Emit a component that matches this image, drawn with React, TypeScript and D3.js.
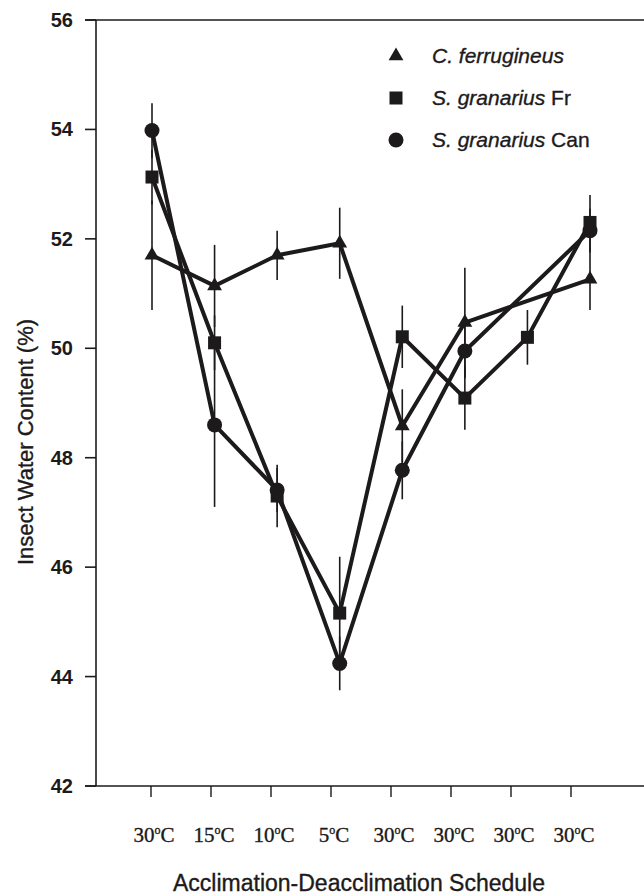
import * as d3 from 'd3';

// schedule labels (degrees C) for the x axis
const schedule = ['30', '15', '10', '5', '30', '30', '30', '30'];
const yTicks = [42, 44, 46, 48, 50, 52, 54, 56];

// water content (%) and error bars per series; null = not measured
const cFerrugineus = [51.70, 51.14, 51.70, 51.92, 48.58, 50.47, null, 51.26];
const cFerrugineusErr = [1.0, 0.75, 0.45, 0.65, 0.67, 1.0, null, 0.56];
const sGranariusFr = [53.13, 50.10, 47.30, 45.16, 50.21, 49.09, 50.20, 52.30];
const sGranariusFrErr = [0.5, 0.5, 0.57, 1.03, 0.57, 0.58, 0.5, 0.5];
const sGranariusCan = [53.98, 48.60, 47.41, 44.24, 47.77, 49.95, null, 52.15];
const sGranariusCanErr = [0.5, 1.5, 0.4, 0.49, 0.53, 0.5, null, 0.4];

const series = [
  { name: 'C. ferrugineus', suffix: '', symbol: d3.symbolTriangle, size: 95, values: cFerrugineus, errs: cFerrugineusErr },
  { name: 'S. granarius', suffix: ' Fr', symbol: d3.symbolSquare, size: 169, values: sGranariusFr, errs: sGranariusFrErr },
  { name: 'S. granarius', suffix: ' Can', symbol: d3.symbolCircle, size: 177, values: sGranariusCan, errs: sGranariusCanErr },
];

const ink = '#1c1a1b';
const W = 644;
const H = 895;

export default function App() {
  const y = d3.scaleLinear().domain([42, 56]).range([786, 20]);
  // the drawn points sit slightly wider than the tick marks in the original
  const xData = d3.scaleLinear().domain([0, schedule.length - 1]).range([152, 590]);
  const xTick = d3.scalePoint<number>().domain(d3.range(schedule.length)).range([151, 571]);
  const axisLeft = 96;

  // missing points are skipped, the line joins the neighbours
  const line = d3.line<[number, number]>()
    .x(d => xData(d[0]))
    .y(d => y(d[1]));
  const pts = (vals: (number | null)[]) =>
    vals.map((v, i) => [i, v] as [number, number | null]).filter(d => d[1] != null) as [number, number][];

  // scanned text looks a little heavier than plain Arial
  const heavy = { stroke: ink, strokeWidth: 0.35 };

  return (
    <svg width={W} height={H} style={{ position: 'absolute', left: 0, top: 0, background: '#fff' }}
      fontFamily="Arial, 'Liberation Sans', sans-serif">
      {/* frame */}
      <line x1={85} x2={W} y1={y(56)} y2={y(56)} stroke={ink} strokeWidth={1.6} />
      <line x1={85} x2={W} y1={y(42)} y2={y(42)} stroke={ink} strokeWidth={1.6} />
      <line x1={axisLeft} x2={axisLeft} y1={y(56)} y2={y(42)} stroke={ink} strokeWidth={1.6} />

      {/* y ticks */}
      {yTicks.map(t => (
        <g key={t}>
          <line x1={85} x2={axisLeft} y1={y(t)} y2={y(t)} stroke={ink} strokeWidth={1.6} />
          <text x={73} y={y(t) + 7} textAnchor="end" fontSize={20} fontWeight="bold" fill={ink}>{t}</text>
        </g>
      ))}

      {/* x ticks + labels */}
      {schedule.map((s, i) => (
        <g key={i}>
          <line x1={xTick(i)} x2={xTick(i)} y1={y(42)} y2={y(42) + 11} stroke={ink} strokeWidth={1.4} />
          <text x={(xTick(i) as number) + 3} y={842} textAnchor="middle" fontSize={21}
            fontFamily="'Liberation Serif', 'Times New Roman', serif" fill={ink} {...heavy}>
            {s}<tspan dy={-8} fontSize={12}>o</tspan><tspan dy={8}>C</tspan>
          </text>
        </g>
      ))}

      {/* axis titles */}
      <text x={359} y={891} textAnchor="middle" fontSize={23} fill={ink} {...heavy}>Acclimation-Deacclimation Schedule</text>
      <text transform="translate(33,442) rotate(-90)" textAnchor="middle" fontSize={22} fill={ink} {...heavy}>Insect Water Content (%)</text>

      {/* error bars */}
      {series.map((s, si) => (
        <g key={'e' + si}>
          {s.values.map((v, i) => v == null || s.errs[i] == null ? null : (
            <line key={i} x1={xData(i)} x2={xData(i)} y1={y(v + (s.errs[i] as number))} y2={y(v - (s.errs[i] as number))}
              stroke={ink} strokeWidth={1.6} />
          ))}
        </g>
      ))}

      {/* lines */}
      {series.map((s, si) => (
        <path key={'l' + si} d={line(pts(s.values)) || ''} fill="none" stroke={ink} strokeWidth={4} strokeLinejoin="round" />
      ))}

      {/* markers */}
      {series.map((s, si) => (
        <g key={'m' + si}>
          {s.values.map((v, i) => v == null ? null : (
            <path key={i} transform={`translate(${xData(i)},${y(v)})`}
              d={d3.symbol(s.symbol, s.size)() || ''} fill={ink} />
          ))}
        </g>
      ))}

      {/* legend */}
      {series.map((s, si) => (
        <g key={'g' + si} transform={`translate(396,${56 + si * 42})`}>
          <path d={d3.symbol(s.symbol, s.size)() || ''} fill={ink} />
          <text x={36} y={7} fontSize={21} fill={ink} {...heavy}>
            <tspan fontStyle="italic">{s.name}</tspan>{s.suffix}
          </text>
        </g>
      ))}
    </svg>
  );
}
